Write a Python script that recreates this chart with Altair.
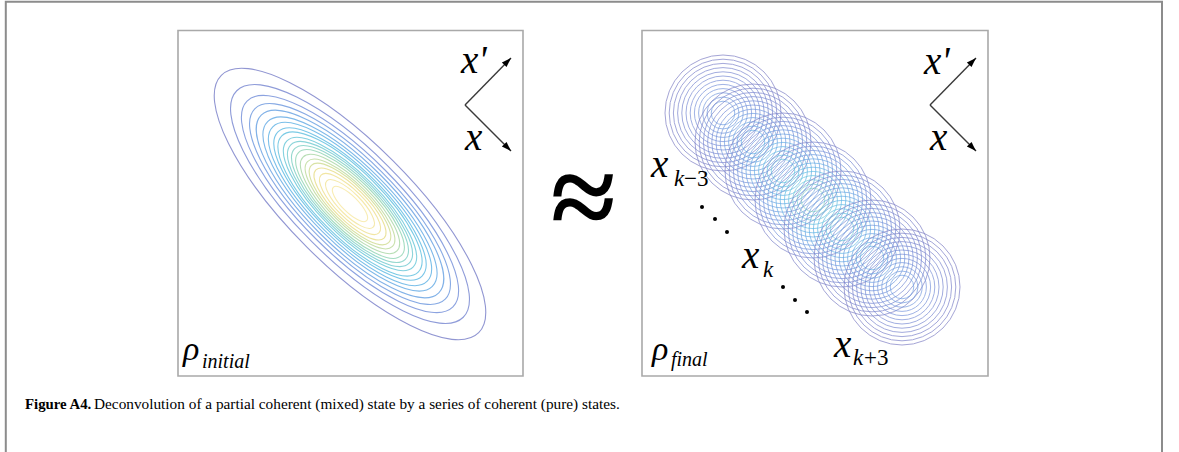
import altair as alt
import pandas as pd

W, H = 1179, 452

# ---------------- data ----------------
# Left panel: contour ellipses of the mixed (partially coherent) state
ELL_CX, ELL_CY = 350, 204
ELL_OUTER_SEMI_MAJOR = 182.0
ELL_AXIS_RATIO = 0.335
ELL_REL_SCALE = [1.00, 0.88, 0.80, 0.74, 0.69, 0.64, 0.60, 0.56, 0.53, 0.49,
                 0.46, 0.43, 0.40, 0.365, 0.33, 0.30, 0.265, 0.225, 0.18, 0.13]
ELL_LEVEL = [0.05, 0.10, 0.15, 0.20, 0.25, 0.30, 0.35, 0.40, 0.45, 0.50,
             0.55, 0.60, 0.65, 0.70, 0.75, 0.80, 0.85, 0.90, 0.95, 1.00]

# Right panel: coherent (pure) states x_{k-3} ... x_{k+3}
STATE_CX = [723, 753, 783, 813, 842, 872, 902]
STATE_CY = [113, 142, 171, 200, 229, 258, 287]
STATE_AMP = [0.22, 0.32, 0.48, 0.62, 0.50, 0.32, 0.22]
RING_R = [58, 53.8, 49.6, 45.4, 41.2, 37.0, 32.8, 28.6, 24.4, 20.2, 16.0, 11.8]
RING_LEVEL = [0.08, 0.17, 0.25, 0.33, 0.42, 0.50, 0.58, 0.67, 0.75, 0.83, 0.92, 1.00]

# faded parula-like colour ramp
PARULA = ["#7f7cc2", "#7a92da", "#6aabe6", "#64c1e4", "#7dcfd0",
          "#b5d9a6", "#ecdf8c", "#f8eaa6"]

# panels (pixel layout)
PANEL_X = [178, 642]
PANEL_X2 = [523, 988]
PANEL_Y = [30.5, 30.5]
PANEL_Y2 = [376, 376]

# axis arrows (vertex -> tip)
ARROW_X = [465, 465, 930, 930]
ARROW_Y = [105, 105, 105, 105]
ARROW_X2 = [511, 511, 976, 976]
ARROW_Y2 = [58, 151, 58, 151]
ARROW_ANGLE = [45, 135, 45, 135]

# ellipsis dots
DOT_X = [702, 715, 727, 783, 795, 807]
DOT_Y = [207, 219, 232, 287, 300, 312]

# ---------------- frames ----------------
xs = alt.Scale(domain=[0, W], nice=False, zero=False)
ys = alt.Scale(domain=[0, H], reverse=True, nice=False, zero=False)


def X(f):
    return alt.X(f"{f}:Q", scale=xs, axis=None)


def Y(f):
    return alt.Y(f"{f}:Q", scale=ys, axis=None)


frame = alt.Chart(pd.DataFrame({"x": [5.8], "x2": [1162], "y": [1.8], "y2": [470]})).mark_rect(
    fill="white", stroke="#8c8c8c", strokeWidth=2
).encode(x=X("x"), x2="x2:Q", y=Y("y"), y2="y2:Q")

panels = alt.Chart(pd.DataFrame({"x": PANEL_X, "x2": PANEL_X2, "y": PANEL_Y, "y2": PANEL_Y2})).mark_rect(
    fill="white", stroke="#a9a9a9", strokeWidth=1.6
).encode(x=X("x"), x2="x2:Q", y=Y("y"), y2="y2:Q")

# ---------------- contours ----------------
ell_df = pd.DataFrame({
    "x": [ELL_CX] * len(ELL_REL_SCALE),
    "y": [ELL_CY] * len(ELL_REL_SCALE),
    "size": [(2 * ELL_OUTER_SEMI_MAJOR * s) ** 2 for s in ELL_REL_SCALE],
    "level": ELL_LEVEL,
})
ELL_SHAPE = (f"M-1,0 A1,{ELL_AXIS_RATIO} 0 1,1 1,0 "
             f"A1,{ELL_AXIS_RATIO} 0 1,1 -1,0 Z")

color_scale = alt.Scale(domain=[0, 1], range=PARULA, nice=False, zero=False)

ellipses = alt.Chart(ell_df).mark_point(
    shape=ELL_SHAPE, filled=False, strokeWidth=1.1, opacity=0.85
).encode(
    x=X("x"), y=Y("y"),
    size=alt.Size("size:Q", scale=None, legend=None),
    angle=alt.value(45),
    color=alt.Color("level:Q", scale=color_scale, legend=None),
)

rows = []
for cx, cy, amp in zip(STATE_CX, STATE_CY, STATE_AMP):
    for r, lv in zip(RING_R, RING_LEVEL):
        rows.append({"x": cx, "y": cy, "size": (2 * r) ** 2, "level": amp * lv})
ring_df = pd.DataFrame(rows)

rings = alt.Chart(ring_df).mark_point(
    shape="circle", filled=False, strokeWidth=1.0, opacity=0.7
).encode(
    x=X("x"), y=Y("y"),
    size=alt.Size("size:Q", scale=None, legend=None),
    color=alt.Color("level:Q", scale=color_scale, legend=None),
)

# ---------------- arrows ----------------
arr_df = pd.DataFrame({"x": ARROW_X, "y": ARROW_Y, "x2": ARROW_X2, "y2": ARROW_Y2, "ang": ARROW_ANGLE})
arrow_lines = alt.Chart(arr_df).mark_rule(color="#3a3a3a", strokeWidth=1.4).encode(
    x=X("x"), y=Y("y"), x2="x2:Q", y2="y2:Q"
)
arrow_heads = alt.Chart(arr_df).mark_point(
    shape="M0,0 L0.55,1.6 L-0.55,1.6 Z", filled=True, color="black", opacity=1
).encode(
    x=X("x2"), y=Y("y2"),
    size=alt.value(144),
    angle=alt.Angle("ang:Q", scale=None),
)

dots = alt.Chart(pd.DataFrame({"x": DOT_X, "y": DOT_Y})).mark_point(
    shape="circle", filled=True, color="black", opacity=1, size=16
).encode(x=X("x"), y=Y("y"))


# ---------------- text ----------------
def text_layer(xv, yv, texts, size, style="normal", weight="normal", font="Liberation Serif", align="left"):
    df = pd.DataFrame({"x": xv, "y": yv, "t": texts})
    return alt.Chart(df).mark_text(
        font=font, fontSize=size, fontStyle=style, fontWeight=weight,
        align=align, baseline="alphabetic", color="black"
    ).encode(x=X("x"), y=Y("y"), text="t:N")


big_x = text_layer([461, 465, 924, 930, 651, 742, 834],
                   [73, 150, 74, 150, 177, 268, 357],
                   ["x'", "x", "x'", "x", "x", "x", "x"], 39, style="italic")
rho = text_layer([183, 652], [360, 360], ["ρ", "ρ"], 34, style="italic")
rho_sub = text_layer([202, 671], [368, 366], ["initial", "final"], 20, style="italic")
sub_k = text_layer([674, 763, 853], [186, 277, 365], ["k", "k", "k"], 23, style="italic")
sub_n = text_layer([684, 864], [186, 365], ["−3", "+3"], 23)

approx = text_layer([583], [237], ["≈"], 118, weight="bold", align="center")

cap_bold = text_layer([25], [409], ["Figure A4."], 14.8, weight="bold")
cap_text = text_layer([94], [409],
                      ["Deconvolution of a partial coherent (mixed) state by a series of coherent (pure) states."], 15.3)

chart = alt.layer(
    frame, panels, ellipses, rings, arrow_lines, arrow_heads, dots,
    big_x, rho, rho_sub, sub_k, sub_n, approx, cap_bold, cap_text
).properties(
    width=W, height=H, autosize="none", padding=0, background="white"
).configure_view(stroke=None)

chart.save("out.html", embed_options={"renderer": "svg", "actions": False})
